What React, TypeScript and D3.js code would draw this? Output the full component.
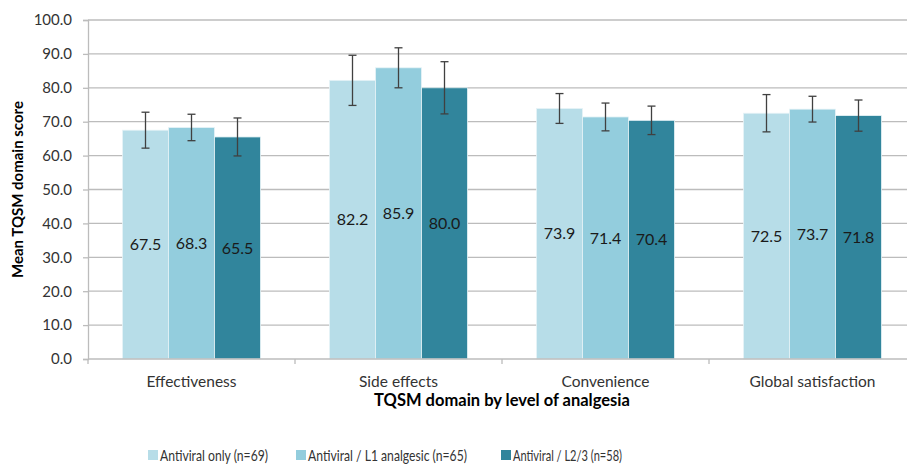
import React, { useRef, useEffect } from 'react'
import * as d3 from 'd3'

const categories = ['Effectiveness', 'Side effects', 'Convenience', 'Global satisfaction']
const seriesNames = ['Antiviral only (n=69)', 'Antiviral / L1 analgesic (n=65)', 'Antiviral / L2/3 (n=58)']
const seriesColors = ['#b7dde8', '#93cddd', '#31859c']
const antiviralOnly = [67.5, 82.2, 73.9, 72.5]
const antiviralL1 = [68.3, 85.9, 71.4, 73.7]
const antiviralL23 = [65.5, 80.0, 70.4, 71.8]
const errOnly = [5.3, 7.4, 4.4, 5.5]
const errL1 = [3.9, 5.9, 4.1, 3.8]
const errL23 = [5.6, 7.7, 4.2, 4.6]
const yTicks = [0, 10, 20, 30, 40, 50, 60, 70, 80, 90, 100]

const values = [antiviralOnly, antiviralL1, antiviralL23]
const errors = [errOnly, errL1, errL23]

export default function App() {
  const svgRef = useRef<SVGSVGElement>(null)

  useEffect(() => {
    if (!svgRef.current) return
    const svg = d3.select(svgRef.current)
    svg.selectAll('*').remove()

    const width = 907
    const height = 465
    const left = 88
    const right = 916
    const top = 20
    const bottom = 359
    const font = 'Lato, Calibri, "Open Sans", sans-serif'

    const x0 = d3.scaleBand<string>().domain(categories).range([left, right]).paddingInner(0).paddingOuter(0)
    const x1 = d3.scaleBand<number>().domain([0, 1, 2]).range([0, x0.bandwidth()]).paddingInner(0).paddingOuter(0.75)
    const y = d3.scaleLinear().domain([0, 100]).range([bottom, top])

    svg.append('rect').attr('width', width).attr('height', height).attr('fill', '#fff')

    // gridlines
    svg.append('g').selectAll('line').data(yTicks.filter(t => t > 0)).enter().append('line')
      .attr('x1', left).attr('x2', right)
      .attr('y1', d => y(d)).attr('y2', d => y(d))
      .attr('stroke', '#bcbcbc').attr('stroke-width', 1.3)

    // y axis
    const yAxis = svg.append('g').attr('transform', `translate(${left},0)`)
      .call(d3.axisLeft(y).tickValues(yTicks).tickFormat(d => (d as number).toFixed(1)).tickSize(5).tickPadding(11))
    yAxis.select('.domain').attr('stroke', '#bcbcbc').attr('stroke-width', 1.3)
    yAxis.selectAll('.tick line').attr('stroke', '#bcbcbc').attr('stroke-width', 1.3)
    yAxis.selectAll('.tick text').attr('font-family', font).attr('font-size', 15).attr('fill', '#333')

    // bars
    const groups = svg.append('g').selectAll('g').data(categories).enter().append('g')
      .attr('transform', d => `translate(${x0(d)},0)`)

    groups.each(function (cat, ci) {
      const g = d3.select(this)
      ;[0, 1, 2].forEach(si => {
        const v = values[si][ci]
        const e = errors[si][ci]
        const bx = x1(si)!
        const bw = x1.bandwidth()
        g.append('rect')
          .attr('x', bx).attr('y', y(v))
          .attr('width', bw).attr('height', y(0) - y(v))
          .attr('fill', seriesColors[si])
          .attr('stroke', '#e6f3f7').attr('stroke-width', 0.8)
        const cx = bx + bw / 2
        g.append('line').attr('x1', cx).attr('x2', cx).attr('y1', y(v + e)).attr('y2', y(v - e))
          .attr('stroke', '#404040').attr('stroke-width', 1.3)
        ;[v + e, v - e].forEach(t => {
          g.append('line').attr('x1', cx - 4).attr('x2', cx + 4).attr('y1', y(t)).attr('y2', y(t))
            .attr('stroke', '#404040').attr('stroke-width', 1.3)
        })
        g.append('text')
          .attr('x', cx).attr('y', y(v / 2)).attr('dy', '0.35em')
          .attr('text-anchor', 'middle')
          .attr('font-family', font).attr('font-size', 16).attr('fill', '#1a1a1a')
          .text(v.toFixed(1))
      })
    })

    // x axis
    svg.append('line').attr('x1', left).attr('x2', right).attr('y1', bottom).attr('y2', bottom)
      .attr('stroke', '#bcbcbc').attr('stroke-width', 1.3)
    svg.append('g').selectAll('line').data(d3.range(categories.length + 1)).enter().append('line')
      .attr('x1', i => left + i * x0.step()).attr('x2', i => left + i * x0.step())
      .attr('y1', bottom).attr('y2', bottom + 5)
      .attr('stroke', '#bcbcbc').attr('stroke-width', 1.3)
    svg.append('g').selectAll('text').data(categories).enter().append('text')
      .attr('x', d => x0(d)! + x0.bandwidth() / 2).attr('y', 387)
      .attr('text-anchor', 'middle')
      .attr('font-family', font).attr('font-size', 15.5).attr('fill', '#333')
      .text(d => d)

    // axis titles
    svg.append('text')
      .attr('x', (left + right) / 2).attr('y', 406)
      .attr('text-anchor', 'middle')
      .attr('font-family', font).attr('font-size', 16.5).attr('font-weight', 'bold').attr('fill', '#000')
      .text('TQSM domain by level of analgesia')
    svg.append('text')
      .attr('transform', `translate(23,${(top + bottom) / 2}) rotate(-90)`)
      .attr('text-anchor', 'middle')
      .attr('font-family', font).attr('font-size', 15).attr('font-weight', 'bold').attr('fill', '#000')
      .text('Mean TQSM domain score')

    // legend
    const legendX = [148, 296, 501]
    const legendW = [108, 159, 109]
    const legend = svg.append('g').selectAll('g').data(seriesNames).enter().append('g')
      .attr('transform', (d, i) => `translate(${legendX[i]},455)`)
    legend.append('rect').attr('x', 0).attr('y', -5).attr('width', 10).attr('height', 10)
      .attr('fill', (d, i) => seriesColors[i])
    legend.append('text').attr('x', 12).attr('y', 5.5)
      .attr('font-family', font).attr('font-size', 16).attr('fill', '#333')
      .attr('textLength', (d, i) => legendW[i]).attr('lengthAdjust', 'spacingAndGlyphs')
      .text(d => d)
  }, [])

  return <svg ref={svgRef} width={907} height={465} style={{ display: 'block', position: 'absolute', left: 0, top: 0 }} />
}
